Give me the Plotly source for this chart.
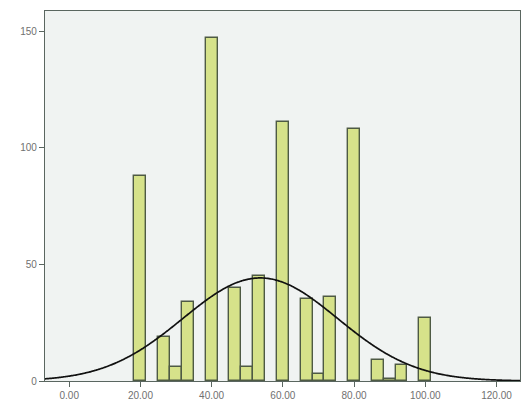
import numpy as np
import plotly.graph_objects as go

# Histogram bins (centers) and frequencies
bin_centers = [20.0, 26.67, 30.0, 33.33, 40.0, 46.67, 50.0, 53.33, 60.0,
               66.67, 70.0, 73.33, 80.0, 86.67, 90.0, 93.33, 100.0]
counts = [88, 19, 6, 34, 147, 40, 6, 45, 111, 35, 3, 36, 108, 9, 1, 7, 27]
bin_width = 10 / 3

x_ticks = [0, 20, 40, 60, 80, 100, 120]
y_ticks = [0, 50, 100, 150]

# Fitted normal curve from the data
c = np.array(bin_centers)
n = np.array(counts)
N = n.sum()
mean = (c * n).sum() / N
sd = np.sqrt(((c - mean) ** 2 * n).sum() / (N - 1))
xs = np.linspace(-7, 127, 400)
ys = N * bin_width * np.exp(-0.5 * ((xs - mean) / sd) ** 2) / (sd * np.sqrt(2 * np.pi))

fig = go.Figure()
fig.add_trace(go.Bar(
    x=bin_centers, y=counts, width=bin_width,
    marker=dict(color="#d6e28a", line=dict(color="#4e5a44", width=1.4)),
    showlegend=False,
))
fig.add_trace(go.Scatter(
    x=xs, y=ys, mode="lines",
    line=dict(color="#111111", width=1.7, shape="spline"),
    showlegend=False,
))

axis_common = dict(
    showgrid=False, zeroline=False, showline=True, linecolor="#5a6660",
    linewidth=1.2, mirror=True, ticks="outside", ticklen=5, tickwidth=1.2,
    tickcolor="#5a6660", tickfont=dict(family="Liberation Sans", size=10, color="#707070"),
)
fig.update_xaxes(range=[-6.8, 126.6], tickvals=x_ticks, tickformat=".2f", **axis_common)
fig.update_yaxes(range=[0, 158.6], tickvals=y_ticks, **axis_common)

fig.update_layout(
    width=524, height=406,
    margin=dict(l=45, r=4, t=11, b=25),
    paper_bgcolor="white", plot_bgcolor="#f0f3f2",
    bargap=0,
)
fig.write_html(
    "out.html",
    config={"displayModeBar": False},
    post_script="document.body.style.margin='0';document.body.style.overflow='hidden';",
)
